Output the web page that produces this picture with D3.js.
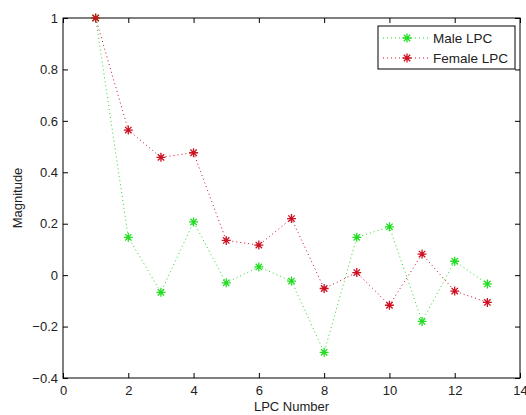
<!DOCTYPE html>
<html>
<head>
<meta charset="utf-8">
<script src="https://cdn.jsdelivr.net/npm/d3@7"></script>
<style>
  body { margin: 0; background: #fff; }
  text { font-family: "Liberation Sans", Arial, sans-serif; }
</style>
</head>
<body>
<svg id="chart" width="526" height="415"></svg>
<script>
// DATA
const lpcIndex = [1, 2, 3, 4, 5, 6, 7, 8, 9, 10, 11, 12, 13];
const maleLPC = [1.0, 0.147, -0.067, 0.207, -0.03, 0.032, -0.023, -0.3, 0.147, 0.188, -0.18, 0.054, -0.034];
const femaleLPC = [1.0, 0.564, 0.458, 0.476, 0.135, 0.117, 0.22, -0.052, 0.01, -0.117, 0.082, -0.062, -0.106];
const seriesNames = ["Male LPC", "Female LPC"];
const xTicks = [0, 2, 4, 6, 8, 10, 12, 14];
const yTicks = [-0.4, -0.2, 0, 0.2, 0.4, 0.6, 0.8, 1];

// CANVAS SETUP
const svg = d3.select("#chart");
const margin = { top: 18, right: 6, bottom: 37, left: 63 };
const width = +svg.attr("width") - margin.left - margin.right,
  height = +svg.attr("height") - margin.top - margin.bottom;

const colors = ["#22dd22", "#cc1122"];
const fontSize = "13px";

const x = d3.scaleLinear().domain([0, 14]).range([0, width]);
const y = d3.scaleLinear().domain([-0.4, 1]).range([height, 0]);

const g = svg.append("g").attr("transform", `translate(${margin.left},${margin.top})`);

// axes, matlab box style with ticks inside
const tickFmt = (d) => (d === 0 ? "0" : d3.format("")(+d.toFixed(1)));

const styleAxis = (sel) => {
  sel.select(".domain").remove();
  sel.selectAll("line").attr("stroke", "#000");
  sel.selectAll("text").attr("fill", "#222").style("font-size", fontSize);
};

g.append("g")
  .attr("transform", `translate(0,${height})`)
  .call(d3.axisBottom(x).tickValues(xTicks).tickSize(-5).tickPadding(8).tickFormat(tickFmt))
  .call(styleAxis);
g.append("g")
  .call(d3.axisTop(x).tickValues(xTicks).tickSize(-5).tickFormat(""))
  .call(styleAxis);
g.append("g")
  .call(d3.axisLeft(y).tickValues(yTicks).tickSize(-5).tickPadding(5).tickFormat(tickFmt))
  .call(styleAxis);
g.append("g")
  .attr("transform", `translate(${width},0)`)
  .call(d3.axisRight(y).tickValues(yTicks).tickSize(-5).tickFormat(""))
  .call(styleAxis);

g.append("rect")
  .attr("width", width)
  .attr("height", height)
  .attr("fill", "none")
  .attr("stroke", "#000")
  .attr("stroke-width", 1);

// labels
svg.append("text")
  .attr("x", margin.left + width / 2)
  .attr("y", 411)
  .attr("text-anchor", "middle")
  .style("font-size", fontSize)
  .attr("fill", "#222")
  .text("LPC Number");

svg.append("text")
  .attr("transform", `translate(22,${margin.top + height / 2}) rotate(-90)`)
  .attr("text-anchor", "middle")
  .style("font-size", fontSize)
  .attr("fill", "#222")
  .text("Magnitude");

// asterisk marker like matlab '*'
const r = 4.5, dd = 3.2;
const star = `M${-r},0L${r},0M0,${-r}L0,${r}M${-dd},${-dd}L${dd},${dd}M${-dd},${dd}L${dd},${-dd}`;

const series = [maleLPC, femaleLPC].map((vals, i) => ({
  name: seriesNames[i],
  color: colors[i],
  points: vals.map((v, j) => ({ x: lpcIndex[j], y: v })),
}));

const line = d3.line().x((d) => x(d.x)).y((d) => y(d.y));

const sg = g.selectAll(".series").data(series).join("g").attr("class", "series");

sg.append("path")
  .attr("d", (d) => line(d.points))
  .attr("fill", "none")
  .attr("stroke", (d) => d.color)
  .attr("stroke-width", 1)
  .attr("stroke-dasharray", "1,3");

sg.selectAll(".mk")
  .data((d) => d.points.map((p) => ({ ...p, color: d.color })))
  .join("path")
  .attr("class", "mk")
  .attr("transform", (d) => `translate(${x(d.x)},${y(d.y)})`)
  .attr("d", star)
  .attr("stroke", (d) => d.color)
  .attr("stroke-width", 1.3)
  .attr("fill", "none");

// LEGEND
const lg = svg.append("g").attr("transform", "translate(378,26)");
lg.append("rect")
  .attr("width", 137)
  .attr("height", 43)
  .attr("fill", "#fff")
  .attr("stroke", "#000");

const li = lg.selectAll(".li").data(series).join("g")
  .attr("class", "li")
  .attr("transform", (d, i) => `translate(0,${12 + i * 20})`);

li.append("line")
  .attr("x1", 5).attr("x2", 52)
  .attr("stroke", (d) => d.color)
  .attr("stroke-dasharray", "1,3");
li.append("path")
  .attr("transform", "translate(29,0)")
  .attr("d", star)
  .attr("stroke", (d) => d.color)
  .attr("stroke-width", 1.3);
li.append("text")
  .attr("x", 55)
  .attr("y", 5)
  .style("font-size", "13.5px")
  .attr("fill", "#222")
  .text((d) => d.name);
</script>
</body>
</html>
